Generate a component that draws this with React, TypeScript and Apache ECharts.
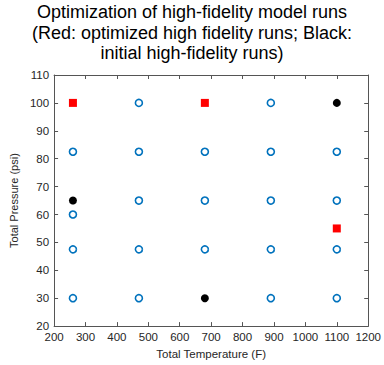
import React, { useEffect, useRef } from "react";
import * as echarts from "echarts";

const titleLines = [
  "Optimization of high-fidelity model runs",
  "(Red: optimized high fidelity runs; Black:",
  "initial high-fidelity runs)",
];

const candidateRuns: [number, number][] = [
  [260, 82.5], [260, 60], [260, 47.5], [260, 30],
  [470, 100], [470, 82.5], [470, 65], [470, 47.5], [470, 30],
  [680, 82.5], [680, 65], [680, 47.5],
  [890, 100], [890, 82.5], [890, 65], [890, 47.5], [890, 30],
  [1100, 82.5], [1100, 65], [1100, 47.5], [1100, 30],
];

const optimizedRuns: [number, number][] = [
  [260, 100], [680, 100], [1100, 55],
];

const initialRuns: [number, number][] = [
  [260, 65], [680, 30], [1100, 100],
];

const xMin = 200, xMax = 1200, xStep = 100;
const yMin = 20, yMax = 110, yStep = 10;

export default function App() {
  const ref = useRef<HTMLDivElement>(null);
  useEffect(() => {
    if (!ref.current) return;
    const chart = echarts.init(ref.current, null, { renderer: "svg" });
    const axisColor = "#555";
    const labelColor = "#262626";
    const font = "Liberation Sans, Arial, sans-serif";
    const baseAxis = {
      axisLine: { show: true, lineStyle: { color: axisColor, width: 1 } },
      axisTick: { show: true, inside: true, length: 4, lineStyle: { color: axisColor } },
      splitLine: { show: false },
    };
    chart.setOption({
      animation: false,
      backgroundColor: "#fff",
      title: {
        text: titleLines.join("\n"),
        left: "center",
        top: -3,
        textStyle: {
          fontFamily: font,
          fontSize: 18,
          fontWeight: "normal",
          color: "#000",
          lineHeight: 20.5,
        },
      },
      grid: { left: 39, right: 12, top: 75, bottom: 37, containLabel: false },
      xAxis: [
        {
          ...baseAxis,
          type: "value",
          min: xMin, max: xMax, interval: xStep,
          name: "Total Temperature (F)",
          nameLocation: "middle",
          nameGap: 21,
          nameTextStyle: { fontFamily: font, fontSize: 11.5, color: labelColor },
          axisLabel: { fontFamily: font, fontSize: 11.5, color: labelColor, margin: 5, formatter: (v: number) => String(v) },
        },
        {
          ...baseAxis,
          type: "value",
          position: "top",
          min: xMin, max: xMax, interval: xStep,
          axisLabel: { show: false },
        },
      ],
      yAxis: [
        {
          ...baseAxis,
          type: "value",
          min: yMin, max: yMax, interval: yStep,
          name: "Total Pressure (psi)",
          nameLocation: "middle",
          nameGap: 26,
          nameTextStyle: { fontFamily: font, fontSize: 11, color: labelColor },
          axisLabel: { fontFamily: font, fontSize: 11.5, color: labelColor, margin: 5, formatter: (v: number) => String(v) },
        },
        {
          ...baseAxis,
          type: "value",
          position: "right",
          min: yMin, max: yMax, interval: yStep,
          axisLabel: { show: false },
        },
      ],
      series: [
        {
          type: "scatter",
          data: candidateRuns,
          symbol: "circle",
          symbolSize: 7,
          itemStyle: { color: "rgba(255,255,255,0)", borderColor: "#0072BD", borderWidth: 1.6, opacity: 1 },
        },
        {
          type: "scatter",
          data: optimizedRuns,
          symbol: "rect",
          symbolSize: 8,
          itemStyle: { color: "#FF0000", opacity: 1 },
        },
        {
          type: "scatter",
          data: initialRuns,
          symbol: "circle",
          symbolSize: 8,
          itemStyle: { color: "#000000", opacity: 1 },
        },
      ],
    });
    return () => chart.dispose();
  }, []);
  return <div ref={ref} style={{ width: 384, height: 365, position: "absolute", left: 0, top: 0 }} />;
}
